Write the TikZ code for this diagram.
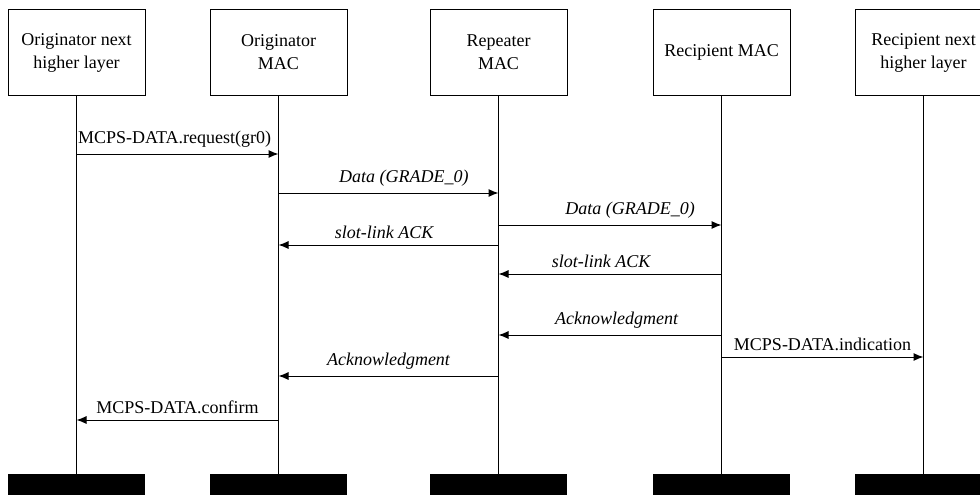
\documentclass[tikz,border=0pt]{standalone}
\usepackage{fontspec}
\setmainfont{Liberation Serif}
\usetikzlibrary{arrows.meta, positioning}
\tikzset{party/.style={draw, line width=1pt, minimum width=137pt, minimum height=85pt, align=center, font=\fontsize{18}{23}\selectfont}}
\tikzset{foot/.style={fill=black, minimum width=137pt, minimum height=22pt, inner sep=0pt}}
\tikzset{msg/.style={-{Latex[length=10pt,width=8pt]}, line width=1pt}}
\tikzset{lbl/.style={above=5pt, inner sep=1pt, font=\fontsize{18}{21}\selectfont}}

\begin{document}
\begin{tikzpicture}[x=1pt, y=-1pt]
\useasboundingbox (0,0) rectangle (980,495);
\node[party] (onl) at (76.5,52.5) {Originator next\\higher layer};
\node[party] (omac) [right=64pt of onl] {Originator\\MAC};
\node[party] (rpmac) [right=82pt of omac] {Repeater\\MAC};
\node[party] (rcmac) [right=85pt of rpmac] {Recipient MAC};
\node[party] (rnl) [right=64pt of rcmac] {Recipient next\\higher layer};
\foreach \p in {onl, omac, rpmac, rcmac, rnl} {
  \node[foot, anchor=north] (f\p) at (\p |- 0,474) {};
  \draw[line width=1pt] (\p) -- (f\p);
}
\draw[msg] (onl |- 0,154) -- node[lbl, pos=0, anchor=south west] {MCPS-DATA.request(gr0)} (omac |- 0,154);
\draw[msg] (omac |- 0,193) -- node[lbl, pos=0.57] {\itshape Data (GRADE\_0)} (rpmac |- 0,193);
\draw[msg] (rpmac |- 0,245) -- node[lbl, pos=0.52] {\itshape slot-link ACK} (omac |- 0,245);
\draw[msg] (rpmac |- 0,225) -- node[lbl, pos=0.59] {\itshape Data (GRADE\_0)} (rcmac |- 0,225);
\draw[msg] (rcmac |- 0,274) -- node[lbl, pos=0.54] {\itshape slot-link ACK} (rpmac |- 0,274);
\draw[msg] (rcmac |- 0,335) -- node[lbl, pos=0.47] {\itshape Acknowledgment} (rpmac |- 0,335);
\draw[msg] (rcmac |- 0,357) -- node[lbl] {MCPS-DATA.indication} (rnl |- 0,357);
\draw[msg] (rpmac |- 0,376) -- node[lbl] {\itshape Acknowledgment} (omac |- 0,376);
\draw[msg] (omac |- 0,420) -- node[lbl] {MCPS-DATA.confirm} (onl |- 0,420);
\end{tikzpicture}
\end{document}
